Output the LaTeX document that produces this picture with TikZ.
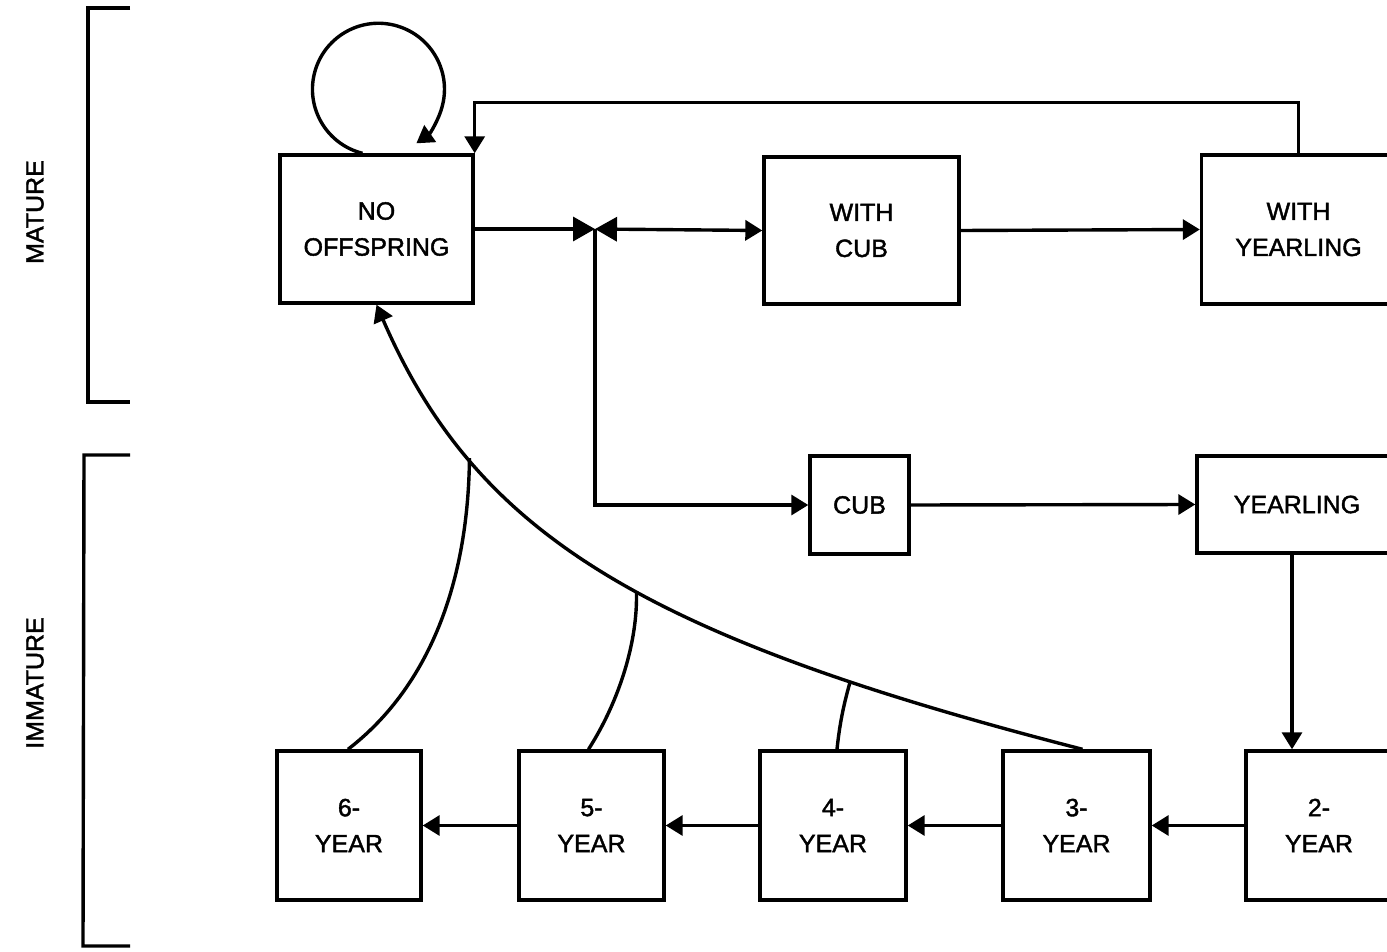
\documentclass[tikz,border=0pt]{standalone}
\usepackage{fontspec}
\setmainfont{Liberation Sans}
\newfontfamily\lblfont{Liberation Sans}[BoldFont={Liberation Sans}, BoldFeatures={FakeBold=1.6}]
\usetikzlibrary{arrows.meta}
\tikzset{
  box/.style={draw, line width=1.7pt, inner sep=0pt, align=center, font=\lblfont\bfseries\fontsize{12.5}{18}\selectfont},
  arr/.style={line width=1.7pt, -{Triangle[length=8.5pt,width=10pt]}},
  bigtip/.style={line width=1.7pt, -{Triangle[length=11pt,width=12pt]}},
  plain/.style={line width=1.7pt},
  side/.style={font=\lblfont\bfseries\fontsize{12.5}{15}\selectfont, rotate=90}
}
\begin{document}
\begin{tikzpicture}[x=0.5pt,y=-0.5pt]
\useasboundingbox (0,0) rectangle (1387,952);
\clip (0,0) rectangle (1387,952);
% boxes
\node[box, minimum width=96.5pt, minimum height=74pt] (noof) at (376.5,229) {NO\\OFFSPRING};
\node[box, minimum width=97.5pt, minimum height=73.5pt] (wcub) at (861.5,230.5) {WITH\\CUB};
\node[box, minimum width=97pt, minimum height=74.5pt] (wyear) at (1298.5,229.5) {WITH\\YEARLING};
\node[box, minimum width=49.5pt, minimum height=49pt] (cub) at (859.5,505) {CUB};
\node[box, minimum width=100pt, minimum height=48.5pt] (year) at (1297,504.5) {YEARLING};
\node[box, minimum width=72pt, minimum height=74.5pt] (y6) at (349,825.5) {6-\\YEAR};
\node[box, minimum width=72.5pt, minimum height=74.5pt] (y5) at (591.5,825.5) {5-\\YEAR};
\node[box, minimum width=73pt, minimum height=74.5pt] (y4) at (833,825.5) {4-\\YEAR};
\node[box, minimum width=73.5pt, minimum height=74.5pt] (y3) at (1076.5,825.5) {3-\\YEAR};
\node[box, minimum width=73pt, minimum height=74.5pt] (y2) at (1319,825.5) {2-\\YEAR};
% side labels and brackets
\node[side] (mat) at (35,212) {MATURE};
\node[side] (imm) at (35,683) {IMMATURE};
\draw[plain] (130,8) -- (88,8) -- (88,402) -- (130,402);
\draw[plain] (130,455) -- (84,455) -- (83,946) -- (130,946);
% junction
\coordinate (J) at (595,229);
\draw[bigtip] (noof.east) -- (J);
\draw[line width=1.7pt, {Triangle[length=11pt,width=12pt]}-{Triangle[length=8.5pt,width=10pt]}] (J) -- (wcub.west);
\draw[arr] (J) |- (cub.west);
\draw[arr] (wcub.east) -- (wyear.west);
\draw[arr] (cub.east) -- (year.west);
\draw[arr] ([xshift=-2.5pt]year.south) -- ([xshift=-2.5pt]year.south |- y2.north);
\draw[arr] (y2.west) -- (y3.east);
\draw[arr] (y3.west) -- (y4.east);
\draw[arr] (y4.west) -- (y5.east);
\draw[arr] (y5.west) -- (y6.east);
% return from with yearling
\draw[arr] (wyear.north) -- ++(0,-51) -| (noof.north east);
% self loop
\draw[arr] ([xshift=-7pt]noof.north) arc[start angle=256, end angle=-55, radius=33pt];
% maturing curve
\draw[arr] ([xshift=3pt]y3.north) .. controls (643.5,636.5) and (476.5,535) .. (noof.south)
  coordinate[pos=0.2] (m4) coordinate[pos=0.45] (m5) coordinate[pos=0.745] (m6);
\draw[plain] ([xshift=-0.5pt]y6.north) .. controls (425,690) and (468,590) .. (m6);
\draw[plain] ([xshift=-1.5pt]y5.north) .. controls (620,700) and (638,640) .. (m5);
\draw[plain] ([xshift=2pt]y4.north) .. controls (840,720) and (845,700) .. (m4);
\end{tikzpicture}
\end{document}
